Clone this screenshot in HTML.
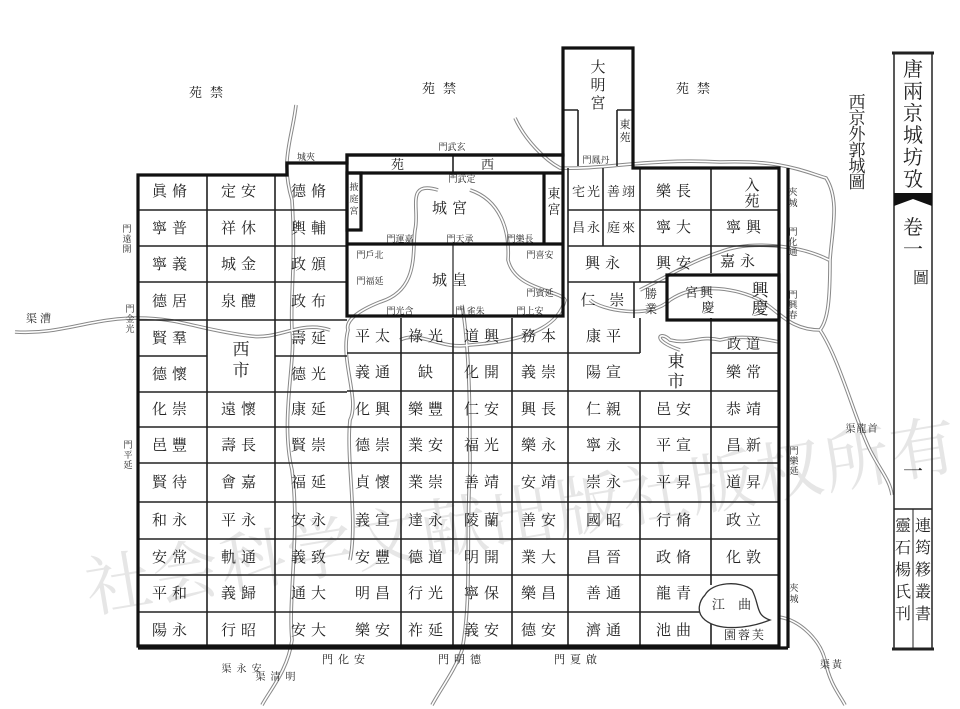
<!DOCTYPE html>
<html><head><meta charset="utf-8">
<style>
html,body{margin:0;padding:0;background:#fff;}
svg{display:block;}
text{font-family:"Liberation Serif","Noto Serif CJK SC","Noto Sans CJK SC",serif;fill:#222;}
.c{font-size:15px;text-anchor:middle;letter-spacing:5px;}
.s{font-size:9px;text-anchor:middle;}
.v{font-size:15px;text-anchor:middle;}
</style></head><body>
<svg width="960" height="709" viewBox="0 0 960 709" xmlns="http://www.w3.org/2000/svg">
<rect width="960" height="709" fill="#fff"/>
<text x="90" y="612" transform="rotate(-9.5 90 612)" style="font-size:66px;fill:#e6e6e6;letter-spacing:2px;font-family:'Noto Serif CJK SC',serif">社会科学文献出版社版权所有</text>

<g fill="none" stroke="#888" stroke-width="3.6">
<path id="r1" d="M15,332 C60,335 90,318 138,318 C180,318 200,330 250,336 C280,340 300,320 330,330"/>
<path d="M296,105 C292,140 280,160 292,200 C296,260 290,300 292,330 C296,360 280,420 292,470 C300,530 288,600 292,640 C288,670 270,690 262,705"/>
<path d="M438,190 C405,180 420,210 415,230 C412,250 420,290 380,302 C360,310 345,320 348,330 C340,360 360,400 350,420 C346,460 358,520 350,560"/>
<path d="M470,190 C500,200 510,230 508,260 C515,290 560,290 565,300 C560,320 540,340 470,345 C440,350 420,330 400,340"/>
<path d="M462,305 C470,350 470,420 470,470 C466,530 472,600 462,650 C455,670 440,690 432,705"/>
<path d="M515,118 C525,140 545,160 560,168 C600,170 650,158 720,162 C780,160 800,170 826,178 C840,200 832,230 830,260 C830,300 828,320 820,330 C790,330 780,312 760,300 C740,290 700,280 670,300 C650,320 600,310 590,300"/>
<path d="M829,260 C800,245 750,240 720,252 C690,262 680,270 640,290"/>
<path d="M820,330 C840,360 855,420 870,450 C880,470 890,480 892,495"/>
<path d="M779,342 C760,338 740,335 720,340 C700,335 690,345 670,340 C660,330 650,340 680,350"/>
<path d="M779,617 C800,620 820,640 825,660 C830,685 840,695 845,705"/>
</g>
<g fill="none" stroke="#fff" stroke-width="1.6">
<path d="M15,332 C60,335 90,318 138,318 C180,318 200,330 250,336 C280,340 300,320 330,330"/>
<path d="M296,105 C292,140 280,160 292,200 C296,260 290,300 292,330 C296,360 280,420 292,470 C300,530 288,600 292,640 C288,670 270,690 262,705"/>
<path d="M438,190 C405,180 420,210 415,230 C412,250 420,290 380,302 C360,310 345,320 348,330 C340,360 360,400 350,420 C346,460 358,520 350,560"/>
<path d="M470,190 C500,200 510,230 508,260 C515,290 560,290 565,300 C560,320 540,340 470,345 C440,350 420,330 400,340"/>
<path d="M462,305 C470,350 470,420 470,470 C466,530 472,600 462,650 C455,670 440,690 432,705"/>
<path d="M515,118 C525,140 545,160 560,168 C600,170 650,158 720,162 C780,160 800,170 826,178 C840,200 832,230 830,260 C830,300 828,320 820,330 C790,330 780,312 760,300 C740,290 700,280 670,300 C650,320 600,310 590,300"/>
<path d="M829,260 C800,245 750,240 720,252 C690,262 680,270 640,290"/>
<path d="M820,330 C840,360 855,420 870,450 C880,470 890,480 892,495"/>
<path d="M779,342 C760,338 740,335 720,340 C700,335 690,345 670,340 C660,330 650,340 680,350"/>
<path d="M779,617 C800,620 820,640 825,660 C830,685 840,695 845,705"/>
</g>

<g stroke="#222" stroke-width="1.6" fill="none">
<path d="M138,210H347 M138,246H347 M138,282H347 M138,320H347 M138,356H207 M275,356H347 M138,392H347 M138,427H347 M138,463H347 M138,502H347 M138,539H347 M138,575H347 M138,612H347"/>
<path d="M207,175V646 M275,175V646"/>
<path d="M347,353H568 M347,391H568 M347,427H568 M347,463H568 M347,502H568 M347,539H568 M347,575H568 M347,612H568"/>
<path d="M401,318V646 M453,318V646 M512,318V646 M568,168V646"/>
<path d="M568,210H779 M568,246H779 M568,282H667 M568,353H640 M711,353H779 M568,391H779 M568,427H779 M568,463H779 M568,502H779 M568,539H779 M568,575H779 M568,612H711"/>
<path d="M603,168V246 M640,168V282 M711,168V273 M640,318V353 M640,391V646 M711,318V585 M711,622V646 M634,282V318"/>
<path d="M453,244V316" stroke-width="1.2"/>
<path d="M453,155V173"/>
<path d="M578,110V166 M617,110V166 M563,110H578 M617,110H633"/>
</g>

<g stroke="#111" stroke-width="3.2" fill="none">
<path d="M138,175H287V163H347V155H563V48H633V168H779V646H138Z"/>
<path d="M788,168V648 M138,648H788"/>
<rect x="347" y="155" width="216" height="161"/>
<path d="M347,173H563 M347,244H563 M544,173V244"/>
<rect x="347" y="173" width="14" height="57"/>
<rect x="667" y="275" width="112" height="45"/>
</g>

<path d="M705,595 C712,582 740,580 752,590 C760,605 755,615 770,620 C750,628 720,632 705,620 C695,612 700,600 705,595Z" fill="#fff" stroke="#333" stroke-width="1.3"/>

<text class="c" x="172" y="196">眞脩</text><text class="c" x="172" y="233">寧普</text><text class="c" x="172" y="269">寧義</text><text class="c" x="172" y="306">德居</text><text class="c" x="172" y="343">賢羣</text><text class="c" x="172" y="379">德懷</text><text class="c" x="172" y="414">化崇</text><text class="c" x="172" y="450">邑豐</text><text class="c" x="172" y="487">賢待</text><text class="c" x="172" y="525">和永</text><text class="c" x="172" y="562">安常</text><text class="c" x="172" y="598">平和</text><text class="c" x="172" y="635">陽永</text>
<text class="c" x="241" y="196">定安</text><text class="c" x="241" y="233">祥休</text><text class="c" x="241" y="269">城金</text><text class="c" x="241" y="306">泉醴</text><text class="c" x="241" y="414">遠懷</text><text class="c" x="241" y="450">壽長</text><text class="c" x="241" y="487">會嘉</text><text class="c" x="241" y="525">平永</text><text class="c" x="241" y="562">軌通</text><text class="c" x="241" y="598">義歸</text><text class="c" x="241" y="635">行昭</text>
<text class="c" x="311" y="196">德脩</text><text class="c" x="311" y="233">輿輔</text><text class="c" x="311" y="269">政頒</text><text class="c" x="311" y="306">政布</text><text class="c" x="311" y="343">壽延</text><text class="c" x="311" y="379">德光</text><text class="c" x="311" y="414">康延</text><text class="c" x="311" y="450">賢崇</text><text class="c" x="311" y="487">福延</text><text class="c" x="311" y="525">安永</text><text class="c" x="311" y="562">義致</text><text class="c" x="311" y="598">通大</text><text class="c" x="311" y="635">安大</text>
<text class="v" x="241" y="355" style="font-size:17px">西</text><text class="v" x="241" y="376" style="font-size:17px">市</text>

<text class="c" x="375" y="341">平太</text><text class="c" x="428" y="341">祿光</text><text class="c" x="484" y="341">道興</text><text class="c" x="541" y="341">務本</text>
<text class="c" x="375" y="377">義通</text><text class="c" x="428" y="377">缺</text><text class="c" x="484" y="377">化開</text><text class="c" x="541" y="377">義崇</text>
<text class="c" x="375" y="414">化興</text><text class="c" x="428" y="414">樂豐</text><text class="c" x="484" y="414">仁安</text><text class="c" x="541" y="414">興長</text>
<text class="c" x="375" y="450">德崇</text><text class="c" x="428" y="450">業安</text><text class="c" x="484" y="450">福光</text><text class="c" x="541" y="450">樂永</text>
<text class="c" x="375" y="487">貞懷</text><text class="c" x="428" y="487">業崇</text><text class="c" x="484" y="487">善靖</text><text class="c" x="541" y="487">安靖</text>
<text class="c" x="375" y="525">義宣</text><text class="c" x="428" y="525">達永</text><text class="c" x="484" y="525">陵蘭</text><text class="c" x="541" y="525">善安</text>
<text class="c" x="375" y="562">安豐</text><text class="c" x="428" y="562">德道</text><text class="c" x="484" y="562">明開</text><text class="c" x="541" y="562">業大</text>
<text class="c" x="375" y="598">明昌</text><text class="c" x="428" y="598">行光</text><text class="c" x="484" y="598">寧保</text><text class="c" x="541" y="598">樂昌</text>
<text class="c" x="375" y="635">樂安</text><text class="c" x="428" y="635">祚延</text><text class="c" x="484" y="635">義安</text><text class="c" x="541" y="635">德安</text>

<text class="c" x="587" y="196" style="font-size:13px;letter-spacing:2px">宅光</text><text class="c" x="622" y="196" style="font-size:13px;letter-spacing:2px">善翊</text><text class="c" x="676" y="196">樂長</text>
<text class="v" x="752" y="190">入</text><text class="v" x="752" y="206">苑</text>
<text class="c" x="587" y="232" style="font-size:13px;letter-spacing:2px">昌永</text><text class="c" x="622" y="232" style="font-size:13px;letter-spacing:2px">庭來</text><text class="c" x="676" y="232">寧大</text><text class="c" x="746" y="232">寧興</text>
<text class="c" x="605" y="268">興永</text><text class="c" x="676" y="268">興安</text><text class="c" x="740" y="266">嘉永</text>
<text class="c" x="605" y="305">仁 崇</text>
<text class="s" x="651" y="298" style="font-size:12px">勝</text><text class="s" x="651" y="313" style="font-size:12px">業</text>
<text class="c" x="700" y="297" style="font-size:13px;letter-spacing:2px">宮興</text><text class="s" x="708" y="312" style="font-size:13px">慶</text>
<text class="v" x="760" y="296" style="font-size:17px">興</text><text class="v" x="760" y="314" style="font-size:17px">慶</text>
<text class="c" x="606" y="341">康平</text><text class="c" x="746" y="349" style="font-size:14px">政道</text>
<text class="v" x="676" y="367" style="font-size:17px">東</text><text class="v" x="676" y="387" style="font-size:17px">市</text>
<text class="c" x="606" y="377">陽宣</text><text class="c" x="746" y="377">樂常</text>
<text class="c" x="606" y="414">仁親</text><text class="c" x="676" y="414">邑安</text><text class="c" x="746" y="414">恭靖</text>
<text class="c" x="606" y="450">寧永</text><text class="c" x="676" y="450">平宣</text><text class="c" x="746" y="450">昌新</text>
<text class="c" x="606" y="487">崇永</text><text class="c" x="676" y="487">平昇</text><text class="c" x="746" y="487">道昇</text>
<text class="c" x="606" y="525">國昭</text><text class="c" x="676" y="525">行脩</text><text class="c" x="746" y="525">政立</text>
<text class="c" x="606" y="562">昌晉</text><text class="c" x="676" y="562">政脩</text><text class="c" x="746" y="562">化敦</text>
<text class="c" x="606" y="598">善通</text><text class="c" x="676" y="598">龍青</text><text class="c" x="734" y="609" style="font-size:13px">江 曲</text>
<text class="c" x="606" y="635">濟通</text><text class="c" x="676" y="635">池曲</text><text class="c" x="745" y="639" style="font-size:12px;letter-spacing:2px">園蓉芙</text>

<text class="c" x="400" y="169" style="font-size:13px">苑</text><text class="c" x="490" y="169" style="font-size:13px">西</text>
<text class="s" x="354" y="190">掖</text><text class="s" x="354" y="202">庭</text><text class="s" x="354" y="214">宮</text>
<text class="s" x="462" y="182">門武定</text>
<text class="c" x="452" y="213">城宮</text>
<text class="v" x="554" y="198" style="font-size:13px">東</text><text class="v" x="554" y="214" style="font-size:13px">宮</text>
<text class="s" x="400" y="242">門運嘉</text><text class="s" x="460" y="242">門天承</text><text class="s" x="520" y="242">門樂長</text>
<text class="s" x="370" y="258">門戶北</text><text class="s" x="370" y="284">門福延</text><text class="s" x="540" y="258">門喜安</text><text class="s" x="540" y="296">門賓延</text>
<text class="c" x="452" y="285">城皇</text>
<text class="s" x="400" y="314">門光含</text><text class="s" x="470" y="314">門 雀朱</text><text class="s" x="530" y="314">門上安</text>
<text class="v" x="598" y="72">大</text><text class="v" x="598" y="90">明</text><text class="v" x="598" y="108">宮</text>
<text class="s" x="625" y="128" style="font-size:11px">東</text><text class="s" x="625" y="141" style="font-size:11px">苑</text>
<text class="s" x="596" y="163">門鳳丹</text>

<text class="c" x="210" y="97" style="font-size:13px;letter-spacing:8px">苑禁</text>
<text class="c" x="443" y="93" style="font-size:13px;letter-spacing:8px">苑禁</text>
<text class="c" x="697" y="93" style="font-size:13px;letter-spacing:8px">苑禁</text>
<text class="s" x="306" y="160">城夾</text>
<text class="s" x="452" y="150">門武玄</text>
<text class="s" x="127" y="232">門</text><text class="s" x="127" y="242">遠</text><text class="s" x="127" y="252">開</text>
<text class="s" x="130" y="312">門</text><text class="s" x="130" y="322">金</text><text class="s" x="130" y="332">光</text>
<text class="s" x="128" y="448">門</text><text class="s" x="128" y="458">平</text><text class="s" x="128" y="468">延</text>
<text class="s" x="793" y="195">夾</text><text class="s" x="793" y="206">城</text>
<text class="s" x="793" y="235">門</text><text class="s" x="793" y="245">化</text><text class="s" x="793" y="255">通</text>
<text class="s" x="793" y="298">門</text><text class="s" x="793" y="308">興</text><text class="s" x="793" y="318">春</text>
<text class="s" x="794" y="454">門</text><text class="s" x="794" y="464">樂</text><text class="s" x="794" y="474">延</text>
<text class="s" x="794" y="591">夾</text><text class="s" x="794" y="602">城</text>
<text class="c" x="40" y="322" style="font-size:11px;letter-spacing:3px">渠漕</text>
<text class="c" x="862" y="432" style="font-size:10px;letter-spacing:1px">渠龍首</text>
<text class="c" x="832" y="668" style="font-size:10px;letter-spacing:2px">渠黃</text>
<text class="c" x="244" y="672" style="font-size:10px">渠永安</text>
<text class="c" x="278" y="680" style="font-size:10px">渠清明</text>
<text class="c" x="346" y="663" style="font-size:11px">門化安</text>
<text class="c" x="462" y="663" style="font-size:11px">門明德</text>
<text class="c" x="578" y="663" style="font-size:11px">門夏啟</text>

<text x="857" y="108" style="font-size:17px;text-anchor:middle">西</text><text x="857" y="124" style="font-size:17px;text-anchor:middle">京</text><text x="857" y="140" style="font-size:17px;text-anchor:middle">外</text><text x="857" y="156" style="font-size:17px;text-anchor:middle">郭</text><text x="857" y="172" style="font-size:17px;text-anchor:middle">城</text><text x="857" y="188" style="font-size:17px;text-anchor:middle">圖</text>

<g stroke="#222" fill="none">
<path d="M892,53H934" stroke-width="3"/>
<path d="M892,649H934" stroke-width="3"/>
<path d="M894,53V649 M932,53V649" stroke-width="1.5"/>
<path d="M913,509V649" stroke-width="1"/>
<path d="M894,509H932" stroke-width="1.5"/>
</g>
<path d="M894,193H932V206L913,199L894,206Z" fill="#111"/>
<text x="913" y="76" style="font-size:20px;text-anchor:middle">唐</text><text x="913" y="98" style="font-size:20px;text-anchor:middle">兩</text><text x="913" y="120" style="font-size:20px;text-anchor:middle">京</text><text x="913" y="142" style="font-size:20px;text-anchor:middle">城</text><text x="913" y="164" style="font-size:20px;text-anchor:middle">坊</text><text x="913" y="186" style="font-size:20px;text-anchor:middle">攷</text>
<text x="913" y="234" style="font-size:20px;text-anchor:middle">卷</text><text x="913" y="256" style="font-size:20px;text-anchor:middle">一</text><text x="921" y="283" style="font-size:16px;text-anchor:middle">圖</text>
<text x="913" y="478" style="font-size:20px;text-anchor:middle">一</text>
<text x="923" y="531" style="font-size:16px;text-anchor:middle">連</text><text x="923" y="553" style="font-size:16px;text-anchor:middle">筠</text><text x="923" y="575" style="font-size:16px;text-anchor:middle">簃</text><text x="923" y="597" style="font-size:16px;text-anchor:middle">叢</text><text x="923" y="619" style="font-size:16px;text-anchor:middle">書</text>
<text x="903" y="531" style="font-size:16px;text-anchor:middle">靈</text><text x="903" y="553" style="font-size:16px;text-anchor:middle">石</text><text x="903" y="575" style="font-size:16px;text-anchor:middle">楊</text><text x="903" y="597" style="font-size:16px;text-anchor:middle">氏</text><text x="903" y="619" style="font-size:16px;text-anchor:middle">刊</text>
</svg>
</body></html>
